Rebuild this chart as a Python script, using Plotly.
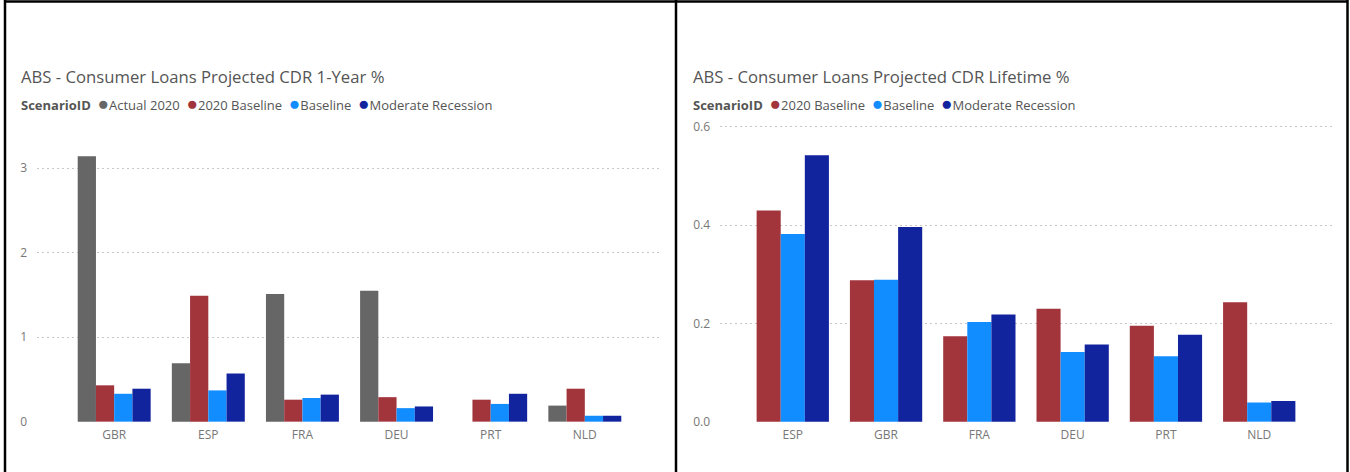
import plotly.graph_objects as go

# ---------------- data ----------------
left_title = "ABS - Consumer Loans Projected CDR 1-Year %"
right_title = "ABS - Consumer Loans Projected CDR Lifetime %"
legend_title = "ScenarioID"

left_countries = ["GBR", "ESP", "FRA", "DEU", "PRT", "NLD"]
left_actual_2020 = [3.14, 0.69, 1.51, 1.55, None, 0.19]
left_2020_baseline = [0.43, 1.49, 0.26, 0.29, 0.26, 0.39]
left_baseline = [0.33, 0.37, 0.28, 0.16, 0.21, 0.07]
left_moderate = [0.39, 0.57, 0.32, 0.18, 0.33, 0.07]

right_countries = ["ESP", "GBR", "FRA", "DEU", "PRT", "NLD"]
right_2020_baseline = [0.430, 0.288, 0.174, 0.230, 0.195, 0.243]
right_baseline = [0.382, 0.289, 0.203, 0.142, 0.133, 0.039]
right_moderate = [0.542, 0.396, 0.218, 0.157, 0.177, 0.042]

left_tickvals = [0, 1, 2, 3]
right_tickvals = [0.0, 0.2, 0.4, 0.6]

# ---------------- styles ----------------
COL = {
    "Actual 2020": "#666666",
    "2020 Baseline": "#A2343C",
    "Baseline": "#118DFF",
    "Moderate Recession": "#12239E",
}
FONT = "Segoe UI, Open Sans, Noto Sans, sans-serif"
W, H = 1350, 472


def px(x):
    return x / W


def py(y):
    return 1 - y / H


fig = go.Figure()

left_series = [
    ("Actual 2020", left_actual_2020),
    ("2020 Baseline", left_2020_baseline),
    ("Baseline", left_baseline),
    ("Moderate Recession", left_moderate),
]
right_series = [
    ("2020 Baseline", right_2020_baseline),
    ("Baseline", right_baseline),
    ("Moderate Recession", right_moderate),
]

for name, vals in left_series:
    fig.add_trace(go.Bar(
        x=left_countries, y=vals, name=name, marker_color=COL[name],
        marker_line_width=0, offsetgroup=name,
        showlegend=False, xaxis="x", yaxis="y",
    ))
for name, vals in right_series:
    fig.add_trace(go.Bar(
        x=right_countries, y=vals, name=name, marker_color=COL[name],
        marker_line_width=0, offsetgroup=name + "_r",
        showlegend=False, xaxis="x2", yaxis="y2",
    ))

ydom = [py(422), py(120)]
common_x = dict(
    type="category", showgrid=False, zeroline=False, showline=False,
    automargin=False,
    ticks="", tickfont=dict(family=FONT, size=12, color="#777777"),
    ticklabelstandoff=4,
)
common_y = dict(
    showgrid=True, gridcolor="#C8C8C8", griddash="1.5px,3.5px", gridwidth=1.2,
    zeroline=False, showline=False, ticks="", automargin=False,
    tickfont=dict(family=FONT, size=12, color="#777777"),
    ticklabelstandoff=9,
)

fig.update_layout(
    width=W, height=H, autosize=False,
    margin=dict(l=0, r=0, t=0, b=0, pad=0),
    paper_bgcolor="white", plot_bgcolor="white",
    barmode="group", bargap=0.225, bargroupgap=0,
    showlegend=False,
    xaxis=dict(domain=[px(37), px(662)], range=[-0.82, 5.82], anchor="y", **common_x),
    yaxis=dict(domain=ydom, range=[-0.004, 3.57], tickvals=left_tickvals,
               anchor="x", **common_y),
    xaxis2=dict(domain=[px(720), px(1332)], range=[-0.78, 5.78], anchor="y2", **common_x),
    yaxis2=dict(domain=ydom, range=[-0.0007, 0.614], tickvals=right_tickvals,
                tickformat=".1f", anchor="x2", **common_y),
)


def legend_text(series_names):
    parts = ["<b>%s</b>" % legend_title]
    for n in series_names:
        parts.append(
            "&nbsp;&nbsp;<span style='font-size:19px;color:%s'>●</span>%s" % (COL[n], n))
    return "".join(parts)


annots = [
    dict(text=left_title, x=px(19), y=py(76), xanchor="left", yanchor="middle",
         font=dict(family=FONT, size=16.7, color="#555555")),
    dict(text=right_title, x=px(691), y=py(76), xanchor="left", yanchor="middle",
         font=dict(family=FONT, size=16.7, color="#555555")),
    dict(text=legend_text([n for n, _ in left_series]), x=px(19), y=py(103),
         xanchor="left", yanchor="middle",
         font=dict(family=FONT, size=13, color="#555555")),
    dict(text=legend_text([n for n, _ in right_series]), x=px(691), y=py(103),
         xanchor="left", yanchor="middle",
         font=dict(family=FONT, size=13, color="#555555")),
]
for a in annots:
    fig.add_annotation(xref="paper", yref="paper", showarrow=False, **a)

# panel borders
border = dict(color="black", width=2.5)
for x0, x1, y0, y1 in [
    (5, 5, 0, 472),
    (676, 676, 0, 472),
    (1347.5, 1347.5, 0, 472),
    (5, 1348, 1.5, 1.5),
]:
    fig.add_shape(type="line", xref="paper", yref="paper",
                  x0=px(x0), x1=px(x1), y0=py(y0), y1=py(y1), line=border)

fig.write_html(
    "out.html",
    config={"displayModeBar": False},
    post_script="document.body.style.margin='0px';document.body.style.padding='0px';",
)
